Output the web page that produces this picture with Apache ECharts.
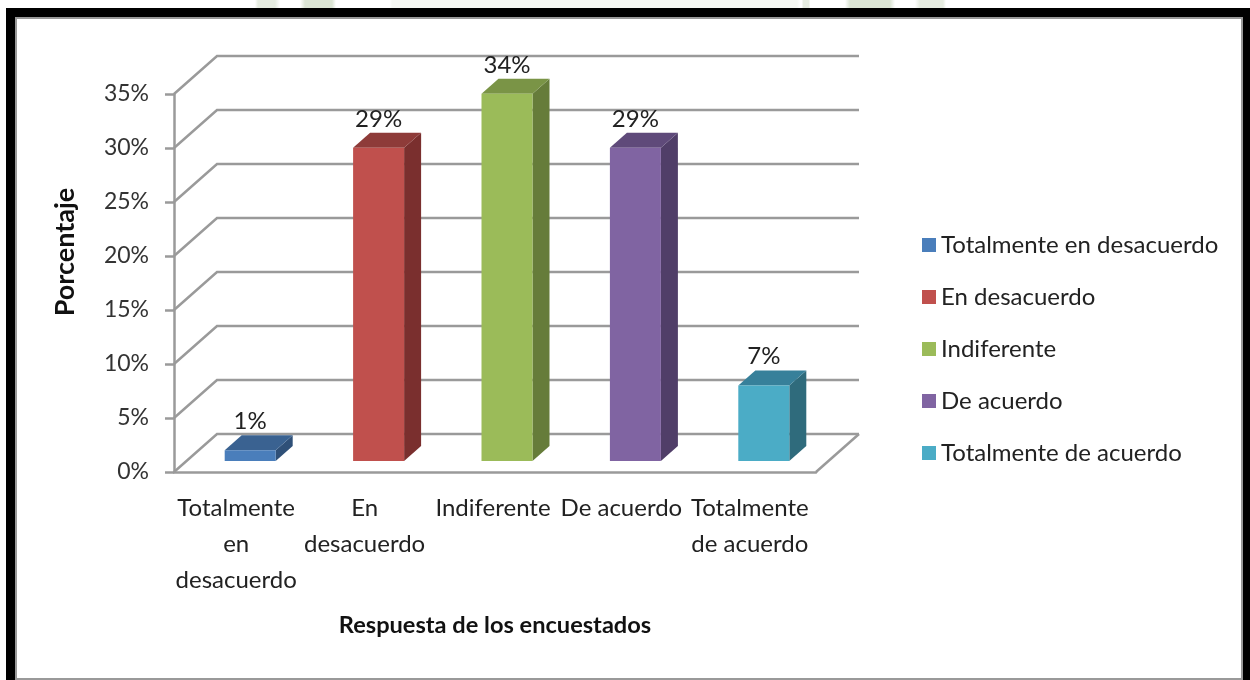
<!DOCTYPE html>
<html>
<head>
<meta charset="utf-8">
<title>Respuesta de los encuestados</title>
<script src="https://cdn.jsdelivr.net/npm/echarts@6/dist/echarts.min.js"></script>
<style>
  html, body { margin: 0; padding: 0; background: #fff; overflow: hidden; }
  /* faint page watermark that shows above the frame */
  #strip {
    position: absolute; left: 0; top: 0; width: 1250px; height: 8px;
    background: linear-gradient(to right,
      #fff 255px, #e6ece1 258px, #e6ece1 275px, #fff 280px, #fff 300px, #dbe4d4 305px, #dbe4d4 332px, #fff 336px,
      #fff 390px, #f6f8f4 392px, #f6f8f4 797px, #fff 800px,
      #fff 802px, #e6ece1 803px, #e6ece1 809px, #fff 810px,
      #fff 845px, #dbe4d4 850px, #dbe4d4 890px, #fff 895px, #fff 915px, #e6ece1 920px, #e6ece1 943px, #fff 946px);
  }
  #frame {
    position: absolute; left: 6px; top: 8px; width: 1244px; height: 672px;
    box-sizing: border-box; background: #000;
  }
  #paper {
    position: absolute; left: 9px; top: 9px; width: 1228px; height: 663px;
    box-sizing: border-box; background: #fff;
    border: 2px solid #999;
  }
  #chart { position: absolute; left: 0; top: 0; width: 1250px; height: 680px; }
</style>
</head>
<body>
<div id="strip"></div>
<div id="frame"><div id="paper"></div></div>
<div id="chart"></div>
<script>
const categories = ['Totalmente en desacuerdo', 'En desacuerdo', 'Indiferente', 'De acuerdo', 'Totalmente de acuerdo']
const axisLabels = ['Totalmente\nen\ndesacuerdo', 'En\ndesacuerdo', 'Indiferente', 'De acuerdo', 'Totalmente\nde acuerdo']
const values = [1, 29, 34, 29, 7]
const yTicks = [0, 5, 10, 15, 20, 25, 30, 35]

const frontColors = ['#4a7ebb', '#c0504d', '#9bbb59', '#8064a2', '#4bacc6']
const topColors = ['#3a6291', '#8e3b39', '#7a9446', '#5f4a7a', '#37809a']
const sideColors = ['#2f5078', '#7a2f2e', '#667c3a', '#503e68', '#2f6b7c']

const fontName = 'Lato'
const lineColor = '#9a9a9a'

// depth of the floor and of the bars, in px
const wallDx = 43
const wallDy = -38
const barDx = 17
const barDy = -15
const barShiftX = 12
const barShiftY = -11
const barWidth = 51

function renderWall(params, api) {
  const box = params.coordSys
  const y = api.coord([0, api.value(0)])[1]
  const x0 = box.x
  const x1 = box.x + box.width
  const children = [{
    type: 'polyline',
    shape: { points: [[x0, y], [x0 + wallDx, y + wallDy], [x1 + wallDx, y + wallDy]] },
    style: { fill: null, stroke: lineColor, lineWidth: 2.5 }
  }]
  if (api.value(0) === 0) {
    children.push({
      type: 'line',
      shape: { x1: x1, y1: y, x2: x1 + wallDx, y2: y + wallDy },
      style: { stroke: lineColor, lineWidth: 2.5 }
    })
  }
  return { type: 'group', children }
}

function renderBar(i) {
  return function(params, api) {
    const top = api.coord([i, api.value(0)])
    const base = api.coord([i, 0])
    const l = top[0] - barWidth / 2 + barShiftX
    const r = l + barWidth
    const t = top[1] + barShiftY
    const b = base[1] + barShiftY
    return {
      type: 'group',
      children: [
        {
          type: 'polygon',
          shape: { points: [[r, t], [r + barDx, t + barDy], [r + barDx, b + barDy], [r, b]] },
          style: { fill: sideColors[i] }
        },
        {
          type: 'polygon',
          shape: { points: [[l, t], [l + barDx, t + barDy], [r + barDx, t + barDy], [r, t]] },
          style: { fill: topColors[i] }
        },
        {
          type: 'rect',
          shape: { x: l, y: t, width: barWidth, height: b - t },
          style: { fill: frontColors[i] }
        },
        {
          type: 'text',
          x: (l + r) / 2,
          y: t - 29,
          style: {
            text: api.value(0) + '%',
            font: '24px ' + fontName,
            fill: '#222',
            align: 'center',
            verticalAlign: 'middle'
          }
        }
      ]
    }
  }
}

const chart = echarts.init(document.getElementById('chart'))

const barSeries = categories.map((name, i) => ({
  name: name,
  type: 'custom',
  coordinateSystem: 'cartesian2d',
  itemStyle: { color: frontColors[i] },
  encode: { x: 1, y: 0 },
  data: [[values[i], categories[i]]],
  renderItem: renderBar(i),
  z: 3
}))

chart.setOption({
  animation: false,
  textStyle: { fontFamily: fontName },
  grid: { left: 174, top: 94, width: 642, height: 378 },
  legend: {
    data: categories,
    orient: 'vertical',
    left: 917,
    top: 228,
    icon: 'rect',
    itemWidth: 14,
    itemHeight: 14,
    itemGap: 28,
    selectedMode: false,
    textStyle: { fontFamily: fontName, fontSize: 24, color: '#222' }
  },
  xAxis: {
    type: 'category',
    data: categories,
    name: 'Respuesta de los encuestados',
    nameLocation: 'middle',
    nameGap: 141,
    nameTextStyle: { fontFamily: fontName, fontSize: 23.6, fontWeight: 'bold', color: '#111' },
    axisLine: { lineStyle: { color: lineColor, width: 2.5 } },
    axisTick: { show: false },
    axisLabel: {
      interval: 0,
      margin: 18,
      padding: [0, 4, 0, 0],
      fontFamily: fontName,
      fontSize: 24,
      lineHeight: 36,
      color: '#222',
      formatter: (v, i) => axisLabels[i]
    }
  },
  yAxis: {
    type: 'value',
    min: 0,
    max: 35,
    interval: 5,
    name: 'Porcentaje',
    nameLocation: 'middle',
    nameGap: 95,
    nameRotate: 90,
    nameTextStyle: { fontFamily: fontName, fontSize: 27, fontWeight: 'bold', color: '#111', padding: [0, 0, 0, 62] },
    splitLine: { show: false },
    axisLine: { show: true, lineStyle: { color: lineColor, width: 2.5 } },
    axisTick: { show: true, length: 9, lineStyle: { color: lineColor, width: 2.5 } },
    axisLabel: {
      margin: 25,
      padding: [3, 0, 0, 0],
      fontFamily: fontName,
      fontSize: 23,
      color: '#333',
      formatter: '{value}%'
    }
  },
  series: [{
    type: 'custom',
    coordinateSystem: 'cartesian2d',
    encode: { y: 0 },
    data: yTicks.map(v => [v]),
    renderItem: renderWall,
    z: 1,
    silent: true
  }].concat(barSeries)
})
</script>
</body>
</html>
